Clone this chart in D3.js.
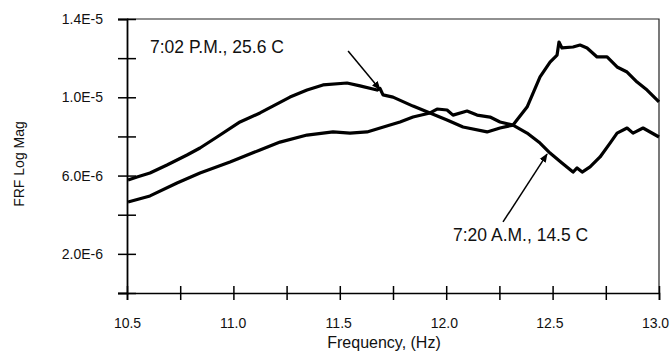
<!DOCTYPE html>
<html>
<head>
<meta charset="utf-8">
<script src="https://cdn.jsdelivr.net/npm/d3@7"></script>
<style>
  body { margin: 0; background: #fff; }
  svg { display: block; font-family: "Liberation Sans", Arial, sans-serif; }
</style>
</head>
<body>
<svg></svg>
<script>
// frequency (Hz) and FRF magnitude (x1e-6)
let pmFreq = [10.505, 10.547, 10.608, 10.688, 10.782, 10.843, 10.923, 11.031, 11.125, 11.266, 11.346, 11.421, 11.534, 11.595, 11.675, 11.689, 11.703, 11.750, 11.844, 11.924, 12.004, 12.079, 12.192, 12.253, 12.314, 12.380, 12.441, 12.488, 12.521, 12.530, 12.544, 12.596, 12.629, 12.662, 12.709, 12.756, 12.803, 12.850, 12.897, 12.944, 13.0]
let pmMag  = [5.77, 5.93, 6.13, 6.54, 7.05, 7.41, 7.97, 8.74, 9.20, 10.01, 10.37, 10.63, 10.73, 10.58, 10.37, 10.45, 10.12, 10.01, 9.55, 9.20, 8.84, 8.48, 8.23, 8.43, 8.58, 9.50, 11.04, 11.80, 12.16, 12.82, 12.52, 12.57, 12.67, 12.52, 12.06, 12.06, 11.55, 11.29, 10.78, 10.37, 9.76]

let amFreq = [10.505, 10.608, 10.735, 10.843, 10.984, 11.125, 11.219, 11.346, 11.468, 11.548, 11.628, 11.736, 11.783, 11.844, 11.924, 11.957, 12.004, 12.032, 12.098, 12.145, 12.206, 12.253, 12.314, 12.380, 12.441, 12.488, 12.544, 12.596, 12.615, 12.639, 12.676, 12.723, 12.770, 12.803, 12.850, 12.878, 12.925, 13.0]
let amMag  = [4.65, 4.96, 5.62, 6.13, 6.69, 7.31, 7.71, 8.07, 8.23, 8.17, 8.23, 8.58, 8.74, 8.99, 9.20, 9.40, 9.35, 9.09, 9.30, 9.09, 8.99, 8.74, 8.58, 8.17, 7.66, 7.15, 6.64, 6.18, 6.39, 6.18, 6.44, 6.95, 7.66, 8.17, 8.43, 8.17, 8.43, 7.97]

let xTicks = [10.5, 10.75, 11.0, 11.25, 11.5, 11.75, 12.0, 12.25, 12.5, 12.75, 13.0]
let xTickLabels = ['10.5', '', '11.0', '', '11.5', '', '12.0', '', '12.5', '', '13.0']
let yTicks = [0, 2, 4, 6, 8, 10, 12, 14]
let yTickLabels = ['', '2.0E-6', '', '6.0E-6', '', '1.0E-5', '', '1.4E-5']

let notes = [
    {text: '7:02 P.M., 25.6 C', f: 10.608, v: 12.26, f1: 11.539, v1: 12.36, f2: 11.689, v2: 10.40},
    {text: '7:20 A.M., 14.5 C', f: 12.032, v: 2.66, f1: 12.267, v1: 3.63, f2: 12.474, v2: 7.10}
]

let width = 670
let height = 355
let plotLeft = 127, plotRight = 659, plotTop = 19, plotBottom = 293

let svg = d3.select('svg').attr('width', width).attr('height', height)

let xScale = d3.scaleLinear().domain([10.5, 13.0]).range([plotLeft, plotRight])
let yScale = d3.scaleLinear().domain([0, 14]).range([plotBottom, plotTop])

// frame: top and right borders
svg.append('path')
    .attr('d', 'M' + plotLeft + ',' + plotTop + 'H' + plotRight + 'V' + plotBottom)
    .attr('fill', 'none')
    .attr('stroke', '#222')
    .attr('stroke-width', 1.2)

let xAxis = d3.axisBottom(xScale)
    .tickValues(xTicks)
    .tickFormat((d, i) => xTickLabels[i])
    .tickSize(7)
    .tickPadding(18)
svg.append('g')
    .attr('transform', 'translate(0,' + plotBottom + ')')
    .call(xAxis)
    .call(g => g.selectAll('.tick line').attr('y1', -7).attr('stroke-width', 1.5))
    .call(g => g.select('.domain').attr('stroke-width', 1.6))
    // labels sit a little left of their ticks toward the right end
    .call(g => g.selectAll('.tick text').attr('dx', (d, i) => -(i / 10) * 4))

let yAxis = d3.axisLeft(yScale)
    .tickValues(yTicks)
    .tickFormat((d, i) => yTickLabels[i])
    .tickSize(9)
    .tickPadding(15)
svg.append('g')
    .attr('transform', 'translate(' + plotLeft + ',0)')
    .call(yAxis)
    .call(g => g.selectAll('.tick line').attr('x1', 9).attr('stroke-width', 1.5))
    .call(g => g.select('.domain').attr('stroke-width', 1.8))

svg.selectAll('.tick text')
    .attr('font-size', 14)
    .attr('font-family', '"Liberation Sans", Arial, sans-serif')
    .attr('fill', '#111')

let line = d3.line()
    .x(d => xScale(d[0]))
    .y(d => yScale(d[1]))

let pmData = pmFreq.map((f, i) => [f, pmMag[i]])
let amData = amFreq.map((f, i) => [f, amMag[i]])

svg.selectAll('path.curve')
    .data([pmData, amData])
    .enter()
    .append('path')
    .attr('class', 'curve')
    .attr('d', line)
    .attr('fill', 'none')
    .attr('stroke', '#000')
    .attr('stroke-width', 3.2)
    .attr('stroke-linejoin', 'round')

svg.append('defs').append('marker')
    .attr('id', 'arrow')
    .attr('viewBox', '0 0 10 10')
    .attr('refX', 9)
    .attr('refY', 5)
    .attr('markerWidth', 9)
    .attr('markerHeight', 9)
    .attr('markerUnits', 'userSpaceOnUse')
    .attr('orient', 'auto')
    .append('path')
    .attr('d', 'M0,1L10,5L0,9Z')
    .attr('fill', '#000')

svg.selectAll('line.note')
    .data(notes)
    .enter()
    .append('line')
    .attr('class', 'note')
    .attr('x1', d => xScale(d.f1))
    .attr('y1', d => yScale(d.v1))
    .attr('x2', d => xScale(d.f2))
    .attr('y2', d => yScale(d.v2))
    .attr('stroke', '#000')
    .attr('stroke-width', 1.5)
    .attr('marker-end', 'url(#arrow)')

svg.selectAll('text.note')
    .data(notes)
    .enter()
    .append('text')
    .attr('class', 'note')
    .attr('x', d => xScale(d.f))
    .attr('y', d => yScale(d.v))
    .attr('font-size', 17.5)
    .attr('fill', '#111')
    .text(d => d.text)

svg.append('text')
    .attr('x', 384)
    .attr('y', 348)
    .attr('text-anchor', 'middle')
    .attr('font-size', 16)
    .attr('fill', '#111')
    .text('Frequency, (Hz)')

svg.append('text')
    .attr('transform', 'translate(19,164) rotate(-90)')
    .attr('text-anchor', 'middle')
    .attr('dominant-baseline', 'central')
    .attr('font-size', 14)
    .attr('fill', '#111')
    .text('FRF Log Mag')
</script>
</body>
</html>
